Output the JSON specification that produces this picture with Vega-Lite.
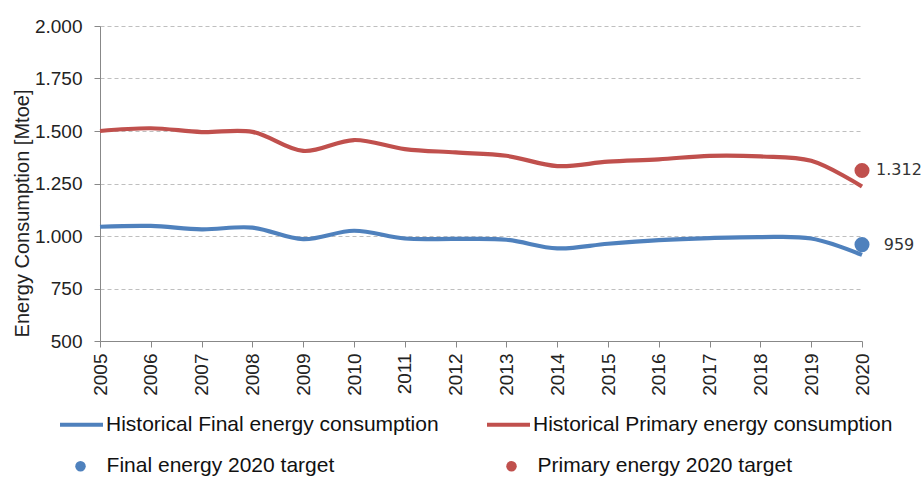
{
  "$schema": "https://vega.github.io/schema/vega-lite/v6.json",
  "width": 762,
  "height": 315,
  "autosize": {"type": "none"},
  "padding": {"left": 100, "top": 26, "right": 62, "bottom": 136},
  "background": "white",
  "config": {
    "locale": {"number": {"decimal": ",", "thousands": ".", "grouping": [3], "currency": ["", " €"]}},
    "view": {"stroke": null},
    "font": "Liberation Sans"
  },
  "data": {
    "values": [
      {"year": 2005, "series": "Historical Final energy consumption", "value": 1044},
      {"year": 2006, "series": "Historical Final energy consumption", "value": 1048},
      {"year": 2007, "series": "Historical Final energy consumption", "value": 1032},
      {"year": 2008, "series": "Historical Final energy consumption", "value": 1040},
      {"year": 2009, "series": "Historical Final energy consumption", "value": 985},
      {"year": 2010, "series": "Historical Final energy consumption", "value": 1025},
      {"year": 2011, "series": "Historical Final energy consumption", "value": 988},
      {"year": 2012, "series": "Historical Final energy consumption", "value": 986},
      {"year": 2013, "series": "Historical Final energy consumption", "value": 982},
      {"year": 2014, "series": "Historical Final energy consumption", "value": 941},
      {"year": 2015, "series": "Historical Final energy consumption", "value": 963},
      {"year": 2016, "series": "Historical Final energy consumption", "value": 980},
      {"year": 2017, "series": "Historical Final energy consumption", "value": 990},
      {"year": 2018, "series": "Historical Final energy consumption", "value": 995},
      {"year": 2019, "series": "Historical Final energy consumption", "value": 988},
      {"year": 2020, "series": "Historical Final energy consumption", "value": 910},
      {"year": 2005, "series": "Historical Primary energy consumption", "value": 1500},
      {"year": 2006, "series": "Historical Primary energy consumption", "value": 1513},
      {"year": 2007, "series": "Historical Primary energy consumption", "value": 1495},
      {"year": 2008, "series": "Historical Primary energy consumption", "value": 1496},
      {"year": 2009, "series": "Historical Primary energy consumption", "value": 1405},
      {"year": 2010, "series": "Historical Primary energy consumption", "value": 1457},
      {"year": 2011, "series": "Historical Primary energy consumption", "value": 1414},
      {"year": 2012, "series": "Historical Primary energy consumption", "value": 1398},
      {"year": 2013, "series": "Historical Primary energy consumption", "value": 1382},
      {"year": 2014, "series": "Historical Primary energy consumption", "value": 1333},
      {"year": 2015, "series": "Historical Primary energy consumption", "value": 1354},
      {"year": 2016, "series": "Historical Primary energy consumption", "value": 1365},
      {"year": 2017, "series": "Historical Primary energy consumption", "value": 1382},
      {"year": 2018, "series": "Historical Primary energy consumption", "value": 1379},
      {"year": 2019, "series": "Historical Primary energy consumption", "value": 1358},
      {"year": 2020, "series": "Historical Primary energy consumption", "value": 1236},
      {"year": 2020, "series": "Final energy 2020 target", "value": 959},
      {"year": 2020, "series": "Primary energy 2020 target", "value": 1312}
    ]
  },
  "encoding": {
    "x": {
      "field": "year",
      "type": "quantitative",
      "scale": {"domain": [2005, 2020], "nice": false, "zero": false},
      "axis": {
        "values": [2005, 2006, 2007, 2008, 2009, 2010, 2011, 2012, 2013, 2014, 2015, 2016, 2017, 2018, 2019, 2020],
        "format": "d",
        "labelAngle": -90,
        "labelFont": "Liberation Sans",
        "labelFontSize": 19,
        "labelColor": "#222222",
        "labelPadding": 6,
        "labelFlush": false,
        "labelOverlap": false,
        "tickSize": 6,
        "tickColor": "#888888",
        "domainColor": "#888888",
        "grid": false,
        "title": null
      }
    },
    "y": {
      "field": "value",
      "type": "quantitative",
      "scale": {"domain": [500, 2000], "nice": false, "zero": false},
      "axis": {
        "values": [500, 750, 1000, 1250, 1500, 1750, 2000],
        "format": ",.0f",
        "labelFont": "Liberation Sans",
        "labelFontSize": 19,
        "labelColor": "#222222",
        "labelPadding": 12,
        "labelFlush": false,
        "tickSize": 6,
        "tickColor": "#888888",
        "domainColor": "#888888",
        "grid": true,
        "gridDash": [4, 3],
        "gridColor": "#bfbfbf",
        "title": "Energy Consumption [Mtoe]",
        "titleFont": "Liberation Sans",
        "titleFontSize": 20,
        "titleFontWeight": "normal",
        "titleColor": "#222222",
        "titleAngle": -90,
        "titleAlign": "center",
        "titleBaseline": "alphabetic",
        "titleX": -72,
        "titleY": 187
      }
    }
  },
  "resolve": {"legend": {"stroke": "independent", "fill": "independent"}},
  "layer": [
    {
      "transform": [{"filter": "indexof(datum.series, 'Historical') === 0"}],
      "mark": {"type": "line", "interpolate": "catmull-rom", "strokeWidth": 4.2},
      "encoding": {
        "stroke": {
          "field": "series",
          "type": "nominal",
          "scale": {
            "domain": ["Historical Final energy consumption", "Historical Primary energy consumption"],
            "range": ["#4F81BD", "#C0504D"]
          },
          "legend": {
            "orient": "none",
            "legendX": -42,
            "legendY": 375,
            "direction": "horizontal",
            "columnPadding": 40,
            "title": null,
            "labelFont": "Liberation Sans",
            "labelFontSize": 21,
            "labelColor": "#111111",
            "labelOffset": 1,
            "labelLimit": 0,
            "symbolSize": 1849,
            "symbolStrokeWidth": 4,
            "symbolType": "stroke"
          }
        }
      }
    },
    {
      "transform": [{"filter": "indexof(datum.series, 'Historical') !== 0"}],
      "mark": {"type": "point", "filled": true, "size": 227, "opacity": 1},
      "encoding": {
        "fill": {
          "field": "series",
          "type": "nominal",
          "scale": {
            "domain": ["Final energy 2020 target", "Primary energy 2020 target"],
            "range": ["#4F81BD", "#C0504D"]
          },
          "legend": {
            "orient": "none",
            "legendX": -30,
            "legendY": 429.5,
            "direction": "horizontal",
            "columnPadding": 166,
            "title": null,
            "labelFont": "Liberation Sans",
            "labelFontSize": 21,
            "labelColor": "#111111",
            "labelOffset": 15.6,
            "labelLimit": 0,
            "symbolSize": 110,
            "symbolType": "circle",
            "symbolOpacity": 1,
            "symbolStrokeWidth": 0
          }
        }
      }
    },
    {
      "transform": [{"filter": "indexof(datum.series, 'Historical') !== 0"}],
      "mark": {"type": "text", "align": "center", "baseline": "middle", "dx": 37, "font": "DejaVu Sans", "fontSize": 16, "color": "#333333"},
      "encoding": {
        "text": {"field": "value", "type": "quantitative", "format": ",.0f"}
      }
    }
  ]
}
